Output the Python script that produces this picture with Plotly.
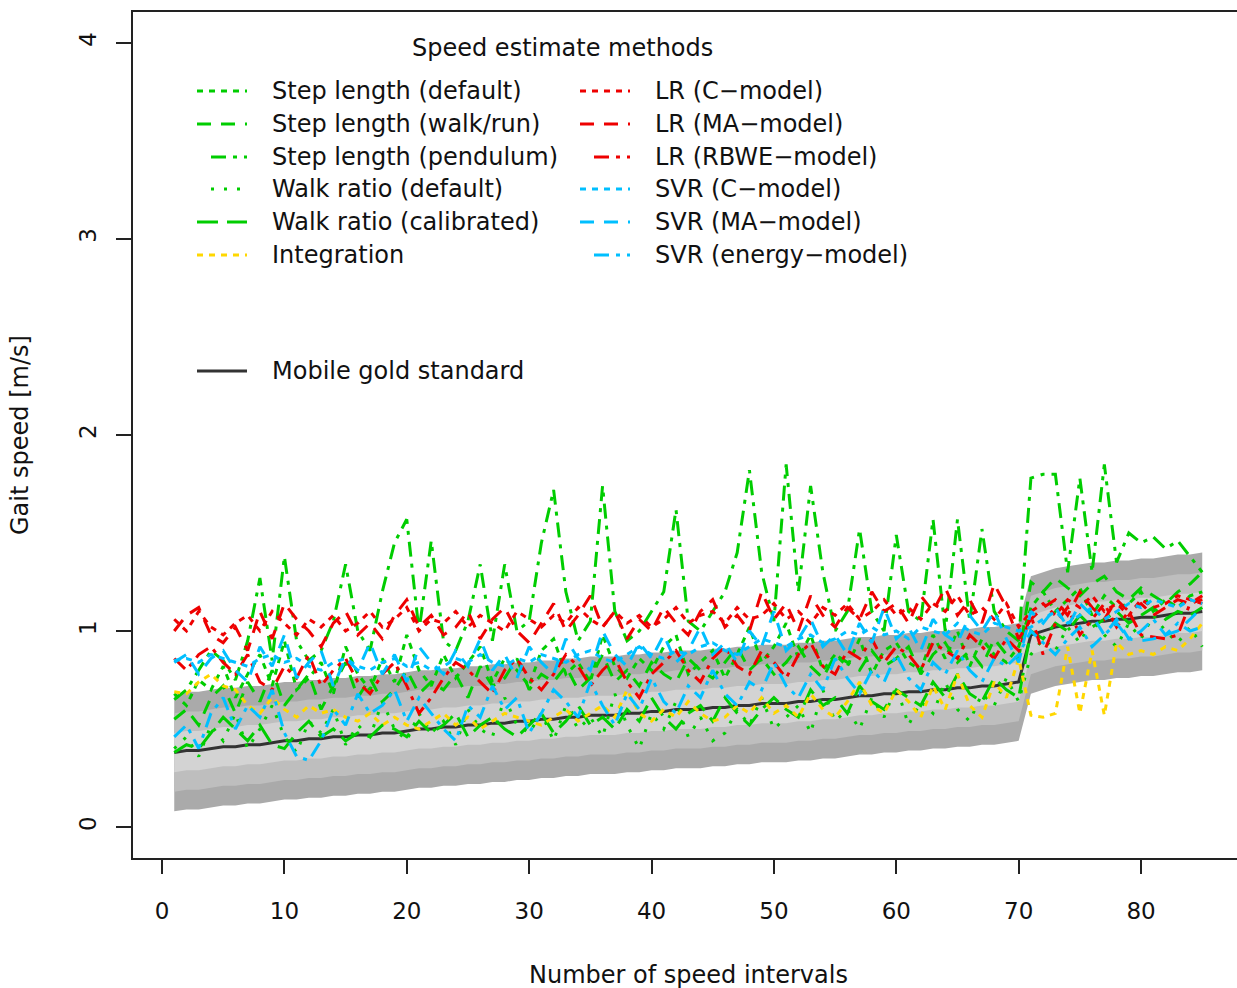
import plotly.graph_objects as go

# ---------------- data ----------------
x_intervals = list(range(1, 86))

gold_standard = [
    0.38, 0.39, 0.39, 0.40, 0.41, 0.41, 0.42, 0.42, 0.43, 0.44,
    0.44, 0.45, 0.45, 0.46, 0.46, 0.47, 0.47, 0.48, 0.48, 0.49,
    0.50, 0.50, 0.51, 0.51, 0.52, 0.52, 0.53, 0.53, 0.54, 0.54,
    0.55, 0.55, 0.56, 0.56, 0.57, 0.57, 0.57, 0.58, 0.58, 0.59,
    0.59, 0.60, 0.60, 0.60, 0.61, 0.61, 0.62, 0.62, 0.63, 0.63,
    0.63, 0.64, 0.64, 0.65, 0.65, 0.66, 0.67, 0.67, 0.68, 0.68,
    0.69, 0.69, 0.70, 0.70, 0.71, 0.71, 0.72, 0.72, 0.73, 0.74,
    0.98, 1.00, 1.02, 1.03, 1.04, 1.05, 1.05, 1.06, 1.06, 1.07,
    1.07, 1.08, 1.09, 1.09, 1.10]

band_halfwidths = [0.3, 0.2, 0.1]

step_length_default = [
    0.68, 0.62, 0.75, 0.70, 0.82, 0.66, 0.78, 0.88, 0.72, 0.95,
    0.70, 0.76, 0.84, 0.68, 0.92, 0.78, 0.70, 0.86, 0.74, 0.98,
    0.80, 0.72, 0.88, 0.76, 0.84, 0.92, 0.74, 0.86, 0.80, 0.72,
    0.90, 0.96, 0.78, 0.84, 0.74, 0.98, 0.82, 0.76, 0.86, 0.80,
    0.92, 0.98, 0.78, 0.84, 0.90, 0.76, 0.88, 1.02, 0.84, 0.92,
    1.04, 0.86, 0.98, 0.80, 0.88, 0.82, 0.96, 0.78, 0.90, 0.94,
    0.84, 0.80, 0.98, 0.86, 1.00, 0.82, 0.96, 0.88, 0.84, 0.92,
    1.12, 1.20, 1.10, 1.16, 1.22, 1.08, 1.18, 1.12, 1.14, 1.20,
    1.10, 1.16, 1.12, 1.18, 1.20]

step_length_walkrun = [
    0.55, 0.60, 0.52, 0.66, 0.72, 0.58, 0.74, 0.64, 0.80, 0.62,
    0.70, 0.78, 0.60, 0.72, 0.84, 0.66, 0.76, 0.64, 0.70, 0.80,
    0.68, 0.74, 0.70, 0.78, 0.66, 0.82, 0.72, 0.76, 0.86, 0.70,
    0.78, 0.74, 0.82, 0.70, 0.76, 0.88, 0.74, 0.80, 0.72, 0.84,
    0.78, 0.74, 0.86, 0.80, 0.76, 0.84, 0.92, 0.80, 0.86, 0.78,
    0.84, 0.92, 0.82, 0.76, 0.88, 0.84, 0.80, 0.90, 0.82, 0.86,
    0.92, 0.78, 0.88, 0.94, 0.84, 0.90, 0.82, 0.96, 0.88, 0.86,
    1.25, 1.20, 1.27, 1.22, 1.18, 1.24, 1.28, 1.20, 1.16, 1.22,
    1.18, 1.14, 1.20, 1.24, 1.30]

step_length_pendulum = [
    0.65, 0.70, 0.80, 0.90, 0.85, 0.75, 0.95, 1.27, 0.85, 1.38,
    0.95, 0.85, 0.90, 1.05, 1.34, 1.00, 0.90, 1.20, 1.45, 1.57,
    1.00, 1.46, 0.95, 0.90, 1.05, 1.34, 0.95, 1.34, 1.00, 1.05,
    1.45, 1.72, 1.20, 0.95, 1.05, 1.74, 1.10, 0.95, 1.00, 1.10,
    1.20, 1.62, 1.05, 1.00, 1.10, 1.20, 1.40, 1.82, 1.30, 1.05,
    1.85, 1.20, 1.74, 1.30, 1.00, 1.10, 1.52, 1.10, 1.00, 1.49,
    1.10, 1.05, 1.57, 1.00, 1.57, 1.05, 1.52, 1.10, 1.00, 0.95,
    1.78, 1.80, 1.80, 1.30, 1.78, 1.30, 1.85, 1.35, 1.50, 1.45,
    1.48, 1.42, 1.46, 1.38, 1.30]

walk_ratio_default = [
    0.40, 0.46, 0.36, 0.52, 0.44, 0.58, 0.40, 0.50, 0.62, 0.46,
    0.38, 0.54, 0.48, 0.60, 0.42, 0.52, 0.46, 0.64, 0.50, 0.44,
    0.58, 0.48, 0.54, 0.42, 0.60, 0.50, 0.46, 0.66, 0.52, 0.48,
    0.58, 0.44, 0.62, 0.50, 0.56, 0.46, 0.68, 0.52, 0.40, 0.58,
    0.50, 0.64, 0.46, 0.56, 0.44, 0.48, 0.60, 0.52, 0.66, 0.50,
    0.56, 0.62, 0.48, 0.70, 0.54, 0.60, 0.50, 0.66, 0.56, 0.72,
    0.52, 0.64, 0.58, 0.74, 0.60, 0.54, 0.68, 0.62, 0.76, 0.64,
    0.88, 0.96, 0.90, 1.02, 0.94, 1.06, 0.98, 0.92, 1.04, 0.96,
    1.08, 1.00, 0.94, 1.02, 0.92]

walk_ratio_calibrated = [
    0.38, 0.42, 0.40, 0.48, 0.56, 0.50, 0.44, 0.52, 0.42, 0.40,
    0.48, 0.54, 0.46, 0.50, 0.44, 0.48, 0.46, 0.52, 0.50, 0.46,
    0.54, 0.48, 0.52, 0.58, 0.46, 0.52, 0.56, 0.50, 0.46, 0.52,
    0.58, 0.48, 0.54, 0.62, 0.52, 0.56, 0.50, 0.60, 0.54, 0.66,
    0.56, 0.50, 0.58, 0.62, 0.54, 0.66, 0.58, 0.52, 0.60, 0.66,
    0.60, 0.56, 0.70, 0.62, 0.66, 0.58, 0.72, 0.64, 0.60, 0.70,
    0.66, 0.62, 0.74, 0.66, 0.78, 0.68, 0.64, 0.76, 0.70, 0.66,
    1.00, 0.96, 1.04, 1.00, 1.08, 1.02, 1.06, 1.10, 1.04, 1.08,
    1.12, 1.06, 1.10, 1.08, 1.12]

integration = [
    0.69, 0.68, 0.74, 0.78, 0.72, 0.70, 0.62, 0.58, 0.66, 0.60,
    0.56, 0.62, 0.58, 0.60, 0.56, 0.54, 0.58, 0.52, 0.56, 0.52,
    0.50, 0.54, 0.58, 0.52, 0.56, 0.50, 0.54, 0.58, 0.56, 0.54,
    0.52, 0.56, 0.60, 0.54, 0.58, 0.62, 0.56, 0.70, 0.58, 0.54,
    0.60, 0.56, 0.64, 0.58, 0.54, 0.56, 0.62, 0.58, 0.66, 0.58,
    0.62, 0.56, 0.68, 0.60, 0.56, 0.64, 0.74, 0.62, 0.58, 0.70,
    0.64, 0.56, 0.72, 0.60, 0.78, 0.62, 0.56, 0.74, 0.66, 0.86,
    0.57, 0.56, 0.58, 0.92, 0.58, 0.90, 0.57, 0.94, 0.88, 0.90,
    0.88, 0.92, 0.90, 0.96, 1.04]

lr_c_model = [
    1.06, 1.00, 1.10, 1.02, 0.98, 1.04, 1.08, 1.00, 1.10, 1.04,
    0.98, 1.06, 1.02, 1.08, 1.00, 1.04, 1.10, 1.02, 1.06, 1.12,
    1.00, 1.06, 1.04, 1.10, 1.02, 1.08, 1.04, 1.00, 1.10, 1.06,
    1.02, 1.08, 1.04, 1.12, 1.06, 1.02, 1.10, 1.04, 1.08, 1.02,
    1.06, 1.12, 1.04, 1.08, 1.10, 1.04, 1.12, 1.06, 1.08, 1.14,
    1.06, 1.10, 1.04, 1.12, 1.08, 1.14, 1.06, 1.10, 1.16, 1.08,
    1.12, 1.06, 1.14, 1.10, 1.18, 1.08, 1.12, 1.06, 1.14, 1.02,
    1.10, 1.14, 1.08, 1.16, 1.12, 1.18, 1.10, 1.14, 1.08, 1.16,
    1.12, 1.14, 1.18, 1.16, 1.14]

lr_ma_model = [
    1.00, 1.08, 1.12, 0.98, 0.94, 1.02, 0.90, 1.10, 0.96, 1.14,
    1.06, 1.00, 0.92, 1.04, 1.10, 0.98, 1.04, 0.96, 1.08, 1.16,
    1.02, 1.08, 0.98, 1.02, 1.10, 0.96, 1.06, 1.12, 1.00, 0.94,
    1.04, 1.14, 1.00, 1.08, 1.18, 1.02, 1.10, 0.96, 1.06, 1.00,
    1.12, 1.04, 0.98, 1.10, 1.16, 1.02, 1.08, 1.00, 1.20, 1.06,
    1.14, 1.00, 1.18, 1.08, 1.02, 1.12, 1.06, 1.20, 1.10, 1.14,
    1.04, 1.18, 1.10, 1.22, 1.08, 1.16, 1.04, 1.24, 1.12, 0.96,
    1.06, 1.12, 1.16, 1.08, 1.20, 1.12, 1.06, 1.16, 1.10, 1.14,
    1.08, 1.12, 1.16, 1.14, 1.18]

lr_rbwe_model = [
    0.86, 0.80, 0.88, 0.92, 0.84, 0.78, 0.88, 0.74, 0.70, 0.82,
    0.76, 0.88, 0.72, 0.80, 0.86, 0.74, 0.68, 0.78, 0.84, 0.72,
    0.58, 0.66, 0.76, 0.84, 0.80, 0.74, 0.68, 0.80, 0.86, 0.76,
    0.70, 0.78, 0.88, 0.82, 0.72, 0.80, 0.86, 0.74, 0.66, 0.78,
    0.84, 0.90, 0.80, 0.74, 0.86, 0.92, 0.82, 0.78, 0.90, 0.84,
    0.76, 0.88, 0.94, 0.82, 0.78, 0.90, 0.86, 0.96, 0.84, 0.92,
    0.88, 0.80, 0.94, 0.90, 0.86, 0.98, 0.92, 0.86, 0.96, 0.90,
    1.08, 0.88, 1.04, 1.12, 0.98, 1.06, 1.14, 1.02, 1.10, 0.98,
    0.97, 0.96, 0.98, 1.14, 1.16]

svr_c_model = [
    0.85, 0.86, 0.84, 0.88, 0.86, 0.84, 0.82, 0.86, 0.88, 0.84,
    0.86, 0.82, 0.80, 0.84, 0.86, 0.82, 0.80, 0.84, 0.86, 0.82,
    0.84, 0.80, 0.82, 0.86, 0.84, 0.88, 0.84, 0.82, 0.86, 0.84,
    0.88, 0.86, 0.84, 0.88, 0.90, 0.86, 0.84, 0.88, 0.92, 0.88,
    0.86, 0.90, 0.88, 0.92, 0.94, 0.90, 0.88, 0.92, 0.96, 0.94,
    0.92, 0.96, 0.98, 0.94, 0.96, 1.00, 0.98, 1.02, 0.98, 1.00,
    0.96, 1.02, 1.00, 0.98, 1.04, 1.00, 0.98, 1.04, 1.02, 1.00,
    1.02, 1.06, 1.10, 1.04, 1.08, 1.12, 1.06, 1.10, 1.14, 1.12,
    1.16, 1.14, 1.12, 1.16, 1.14]

svr_ma_model = [
    0.84, 0.88, 0.78, 0.86, 0.90, 0.80, 0.74, 0.92, 0.82, 0.98,
    0.76, 0.84, 0.90, 0.72, 0.86, 0.80, 0.94, 0.78, 0.88, 0.74,
    0.92, 0.84, 0.78, 0.90, 0.82, 0.96, 0.80, 0.88, 0.76, 0.92,
    0.84, 0.78, 0.96, 0.86, 0.80, 1.00, 0.88, 0.82, 0.94, 0.86,
    0.98, 0.84, 0.90, 1.02, 0.88, 0.94, 0.84, 1.00, 0.92, 1.10,
    0.90, 0.96, 1.06, 0.92, 0.98, 0.88, 1.04, 0.94, 1.12, 0.96,
    1.02, 0.90, 1.06, 0.98, 0.94, 1.08, 1.00, 1.10, 0.96, 0.84,
    1.10, 1.04, 1.12, 1.02, 1.14, 1.08, 0.98, 1.06, 0.96, 0.95,
    0.96, 0.98, 1.00, 1.06, 1.12]

svr_energy_model = [
    0.46, 0.52, 0.40, 0.58, 0.66, 0.50, 0.62, 0.56, 0.70, 0.48,
    0.36, 0.34, 0.44, 0.60, 0.52, 0.68, 0.58, 0.62, 0.70, 0.54,
    0.66, 0.58, 0.50, 0.44, 0.62, 0.56, 0.72, 0.60, 0.66, 0.48,
    0.58, 0.70, 0.64, 0.56, 0.74, 0.62, 0.52, 0.68, 0.60, 0.76,
    0.64, 0.58, 0.72, 0.66, 0.80, 0.68, 0.62, 0.74, 0.70, 0.84,
    0.72, 0.66, 0.78, 0.70, 0.86, 0.76, 0.68, 0.80, 0.74, 0.88,
    0.76, 0.70, 0.84, 0.78, 0.90, 0.80, 0.74, 0.86, 0.82, 0.88,
    1.00, 0.94, 0.88, 0.96, 1.02, 0.92, 0.98, 1.04, 0.96, 1.00,
    1.06, 0.98, 1.04, 1.00, 1.02]

x_tick_values = [0, 10, 20, 30, 40, 50, 60, 70, 80]
y_tick_values = [0, 1, 2, 3, 4]

# ---------------- styling ----------------
FONT = "DejaVu Sans"
GREEN = "#00CD00"
RED = "#EE0000"
BLUE = "#00BFFF"
YELLOW = "#FFD700"
GOLD_LINE = "#333333"
BAND_COLORS = ["#aaaaaa", "#bebebe", "#d3d3d3"]
TEXT_SIZE = 24

DOTTED = "6px,6px"
DASHED = "14px,10px"
DOTDASH = "15px,7px,4px,7px"
SPARSE = "3px,10px"
LONGDASH = "21px,9px"

series = [
    ("Step length (default)", step_length_default, GREEN, DOTTED),
    ("Step length (walk/run)", step_length_walkrun, GREEN, DASHED),
    ("Step length (pendulum)", step_length_pendulum, GREEN, DOTDASH),
    ("Walk ratio (default)", walk_ratio_default, GREEN, SPARSE),
    ("Walk ratio (calibrated)", walk_ratio_calibrated, GREEN, LONGDASH),
    ("Integration", integration, YELLOW, DOTTED),
    ("LR (C\u2212model)", lr_c_model, RED, DOTTED),
    ("LR (MA\u2212model)", lr_ma_model, RED, DASHED),
    ("LR (RBWE\u2212model)", lr_rbwe_model, RED, DOTDASH),
    ("SVR (C\u2212model)", svr_c_model, BLUE, DOTTED),
    ("SVR (MA\u2212model)", svr_ma_model, BLUE, DASHED),
    ("SVR (energy\u2212model)", svr_energy_model, BLUE, DOTDASH),
]

W, H = 1237, 988
PL, PT, PR, PB = 133, 12, 1237, 858  # plot area in pixels


def pxx(xp):
    return (xp - PL) / (PR - PL)


def pxy(yp):
    return (PB - yp) / (PB - PT)


fig = go.Figure()

# grey bands around the gold standard
for hw, col in zip(band_halfwidths, BAND_COLORS):
    upper = [g + hw for g in gold_standard]
    lower = [g - hw for g in gold_standard]
    fig.add_trace(go.Scatter(
        x=x_intervals + x_intervals[::-1], y=upper + lower[::-1],
        fill="toself", fillcolor=col, mode="lines", line=dict(width=0),
        hoverinfo="skip", showlegend=False))

fig.add_trace(go.Scatter(x=x_intervals, y=gold_standard, mode="lines",
                         line=dict(color=GOLD_LINE, width=3),
                         name="Mobile gold standard", showlegend=False))

for name, vals, col, dash in series:
    fig.add_trace(go.Scatter(x=x_intervals, y=vals, mode="lines",
                             line=dict(color=col, width=3, dash=dash),
                             name=name, showlegend=False))

# ---------------- manual legend ----------------
shapes = []
annotations = []
row_y = [91, 124, 157, 189, 222, 255]
legend_starts = {DOTTED: 0, DASHED: 0, DOTDASH: 14, SPARSE: 14, LONGDASH: 0}
for i, (name, vals, col, dash) in enumerate(series):
    col_i, row_i = divmod(i, 6)
    x0 = 197 if col_i == 0 else 580
    tx = 270 if col_i == 0 else 653
    yy = row_y[row_i]
    shapes.append(dict(type="line", xref="paper", yref="paper",
                       x0=pxx(x0 + legend_starts[dash]), x1=pxx(x0 + 50),
                       y0=pxy(yy), y1=pxy(yy),
                       line=dict(color=col, width=3, dash=dash)))
    annotations.append(dict(text=name, xref="paper", yref="paper",
                            x=pxx(tx), y=pxy(yy), xanchor="left", yanchor="middle",
                            showarrow=False,
                            font=dict(family=FONT, size=TEXT_SIZE, color="#111")))

shapes.append(dict(type="line", xref="paper", yref="paper",
                   x0=pxx(197), x1=pxx(247), y0=pxy(371), y1=pxy(371),
                   line=dict(color=GOLD_LINE, width=3)))
annotations.append(dict(text="Mobile gold standard", xref="paper", yref="paper",
                        x=pxx(270), y=pxy(371), xanchor="left", yanchor="middle",
                        showarrow=False,
                        font=dict(family=FONT, size=TEXT_SIZE, color="#111")))
annotations.append(dict(text="Speed estimate methods", xref="paper", yref="paper",
                        x=pxx(562), y=pxy(48), xanchor="center", yanchor="middle",
                        showarrow=False,
                        font=dict(family=FONT, size=TEXT_SIZE, color="#111")))

# axis titles
annotations.append(dict(text="Number of speed intervals", xref="paper", yref="paper",
                        x=pxx(688), y=pxy(975), xanchor="center", yanchor="middle",
                        showarrow=False,
                        font=dict(family=FONT, size=TEXT_SIZE, color="#111")))
annotations.append(dict(text="Gait speed [m/s]", xref="paper", yref="paper",
                        x=pxx(20), y=pxy(435), xanchor="center", yanchor="middle",
                        textangle=-90, showarrow=False,
                        font=dict(family=FONT, size=TEXT_SIZE, color="#111")))

fig.update_layout(
    width=W, height=H,
    margin=dict(l=PL, r=W - PR, t=PT, b=H - PB, pad=0),
    paper_bgcolor="white", plot_bgcolor="white",
    font=dict(family=FONT, size=23, color="#111"),
    showlegend=False,
    shapes=shapes, annotations=annotations,
    xaxis=dict(range=[-2.37, 87.84], tickmode="array", tickvals=x_tick_values,
               ticks="outside", ticklen=14, tickwidth=1.5, tickcolor="#222",
               showline=True, linecolor="#222", linewidth=1.5, mirror=True,
               showgrid=False, zeroline=False, ticklabelstandoff=18,
               tickfont=dict(family=FONT, size=23, color="#111")),
    yaxis=dict(range=[-0.158, 4.158], tickmode="array", tickvals=y_tick_values,
               ticks="outside", ticklen=15, tickwidth=1.5, tickcolor="#222",
               showline=True, linecolor="#222", linewidth=1.5, mirror=False,
               showgrid=False, zeroline=False, tickangle=-90, ticklabelstandoff=11,
               tickfont=dict(family=FONT, size=23, color="#111")),
)

fig.write_html("out.html")
